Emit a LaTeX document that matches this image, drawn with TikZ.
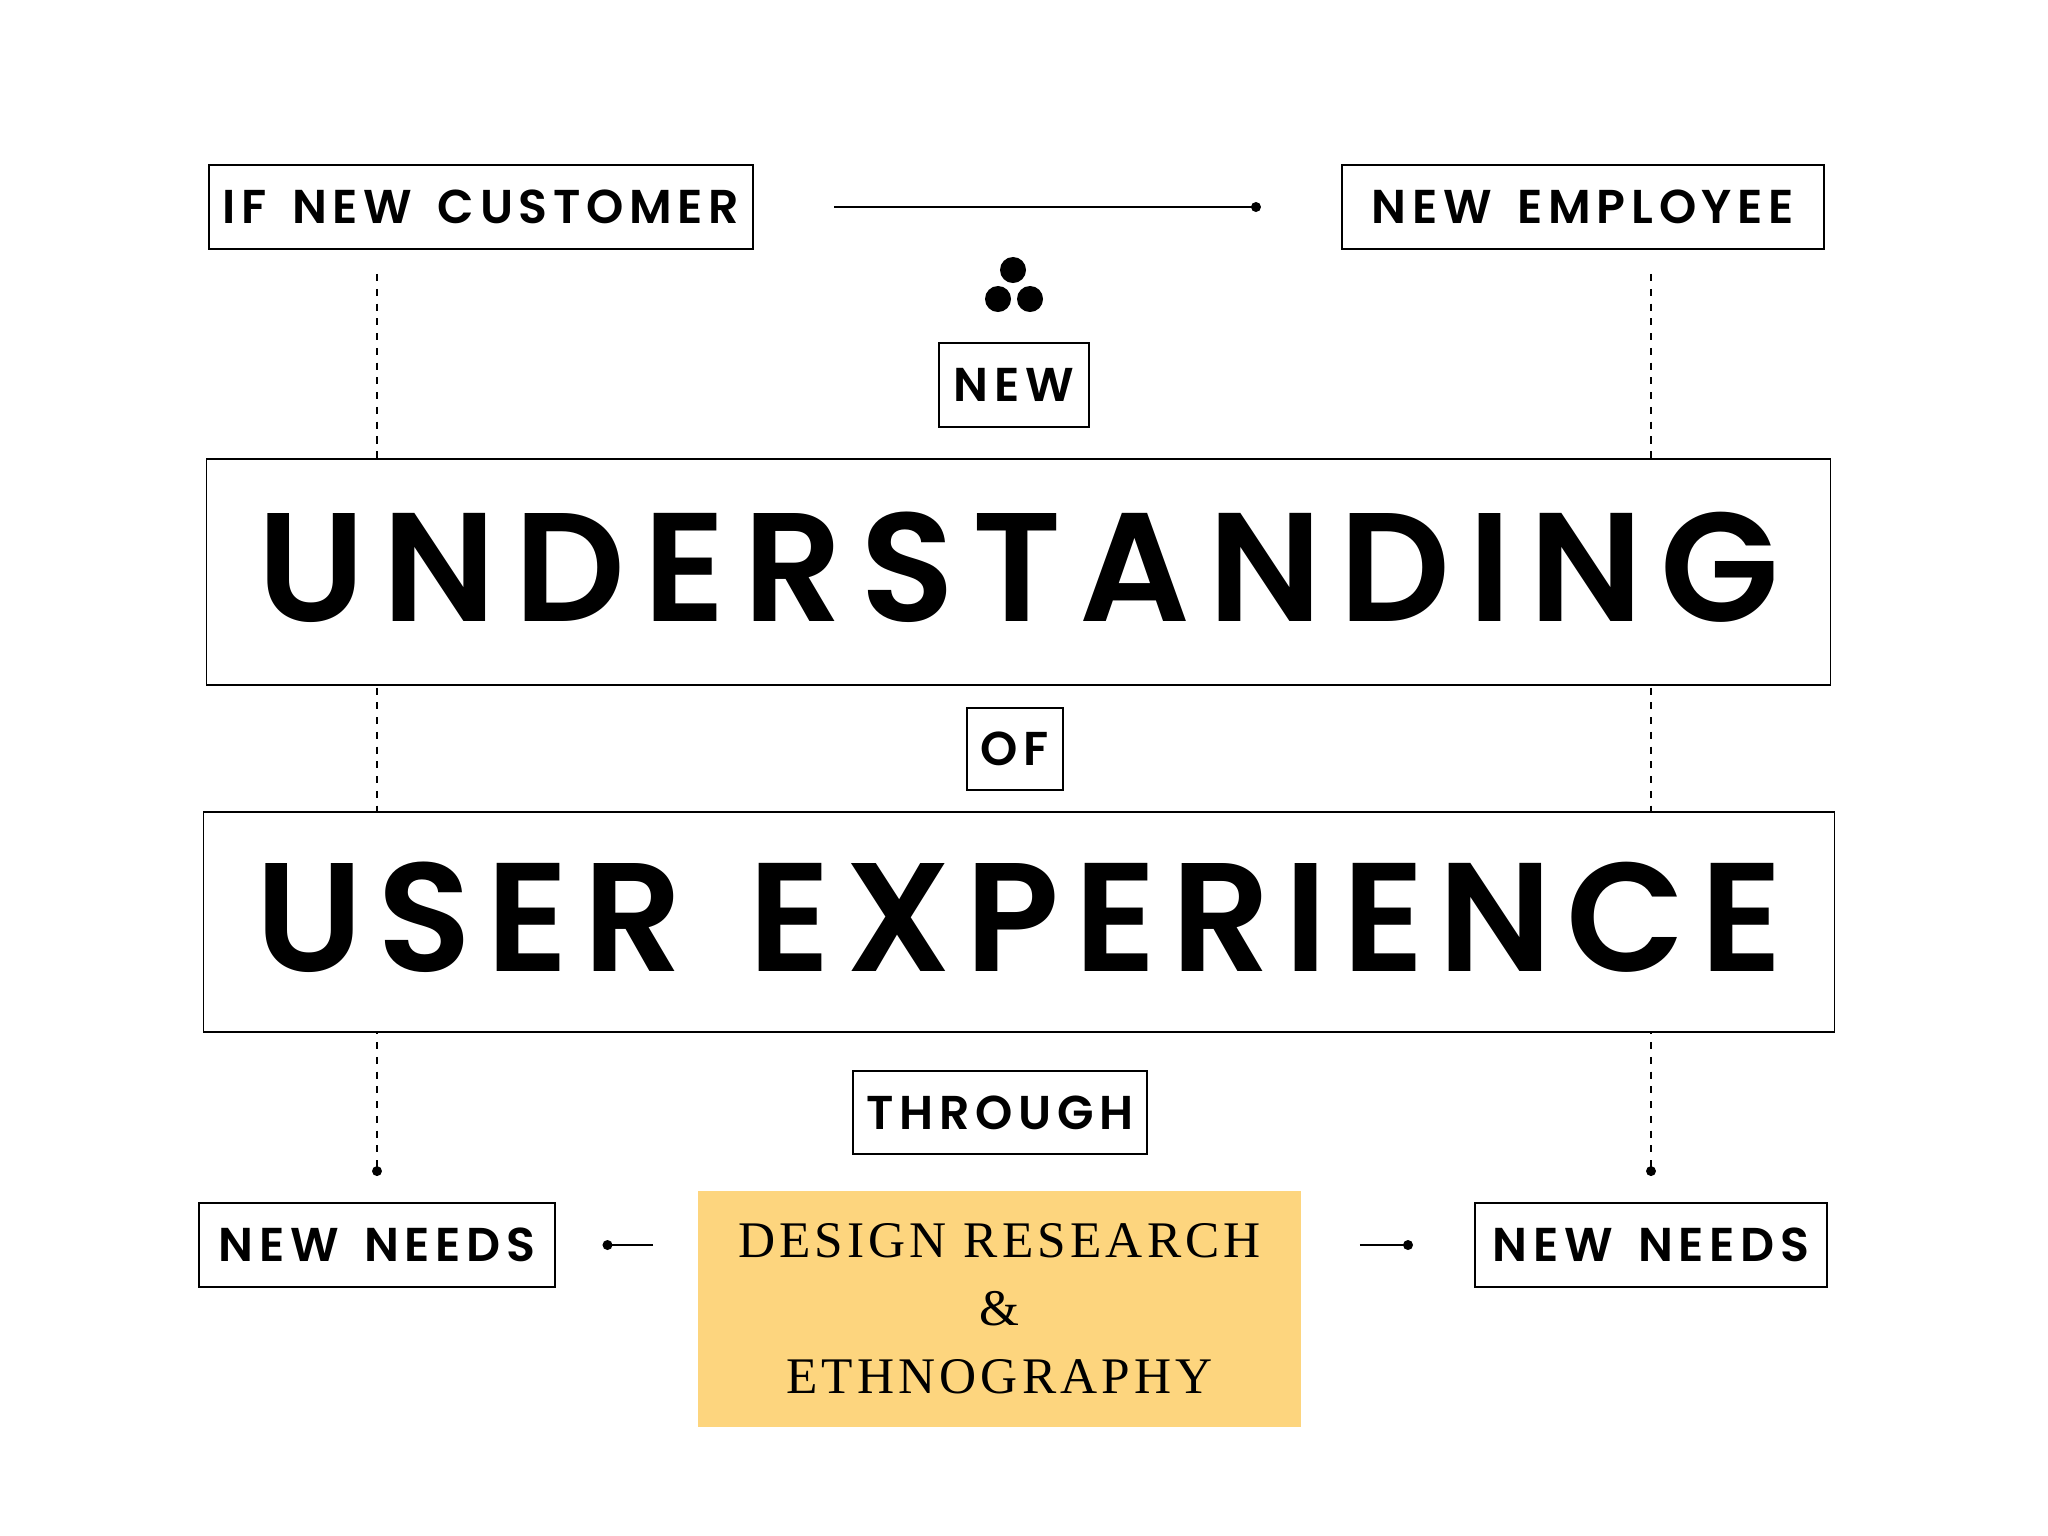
\documentclass[tikz,border=0pt]{standalone}
\usepackage{fontspec}
\setmainfont{Liberation Serif}
\newfontfamily\labelfont{Poppins SemiBold}[LetterSpace=12,WordSpace=1.5]
\newfontfamily\titlefont{Poppins SemiBold}[LetterSpace=11.5]
\newfontfamily\uxfont{Poppins SemiBold}[LetterSpace=9.3,WordSpace=1.3]
\newfontfamily\researchfont{Liberation Serif}[LetterSpace=8]
\usetikzlibrary{positioning,backgrounds,calc,arrows.meta}
\definecolor{sand}{HTML}{FDD57E}
\tikzset{
  tag/.style={draw, line width=0.55pt, fill=white, inner sep=0pt,
    font=\labelfont\fontsize{13.5}{16}\selectfont},
  headline/.style={tag, text depth=0.1cm, font=\titlefont\fontsize{44}{50}\selectfont},
  guide/.style={dash pattern=on 2pt off 2.2pt, line width=0.4pt},
  link/.style={line width=0.6pt},
  dotend/.style={-{Circle[length=2.8pt]}},
}
\begin{document}
\begin{tikzpicture}[x=0.01cm,y=-0.01cm]
  \useasboundingbox (0,0) rectangle (2048,1536);
  % top row
  \node[tag, minimum width=5.44cm, minimum height=0.84cm] (cust) at (481,207) {IF NEW CUSTOMER};
  \node[tag, minimum width=4.82cm, minimum height=0.84cm] (emp) at (1583,207) {NEW EMPLOYEE};
  \fill (1013,270) circle (0.13cm) (998,299) circle (0.13cm) (1030,299) circle (0.13cm);
  % middle column
  \node[tag, minimum width=1.50cm, minimum height=0.84cm] (new) at (1014,385) {NEW};
  \node[headline, minimum width=16.23cm, minimum height=2.26cm] (under) at (1018.5,572) {UNDERSTANDING};
  \node[tag, minimum width=0.96cm, minimum height=0.82cm] (of) at (1015,749) {OF};
  \node[headline, font=\uxfont\fontsize{44}{50}\selectfont, minimum width=16.30cm, minimum height=2.20cm]
    (ux) at (1019,922) {USER EXPERIENCE};
  \node[tag, minimum width=2.94cm, minimum height=0.83cm] (thr) at (1000,1112.5) {THROUGH};
  % bottom row
  \node[tag, minimum width=3.55cm, minimum height=0.84cm] (needsL) at (377,1245) {NEW NEEDS};
  \node[fill=sand, minimum width=6.03cm, minimum height=2.36cm, inner sep=0pt, align=center,
    font=\researchfont\fontsize{14.6}{19.3}\selectfont] (research) at (999.5,1309)
    {DESIGN RESEARCH\\\&\\ETHNOGRAPHY};
  \node[tag, minimum width=3.52cm, minimum height=0.84cm] (needsR) at (1651,1245) {NEW NEEDS};
  % connectors
  \draw[link, dotend] ($(cust.east)+(80,0)$) -- ($(emp.west)-(80,0)$);
  \draw[link, dotend] ($(research.west |- needsL.east)-(44,0)$) -- ($(needsL.east)+(47,0)$);
  \draw[link, dotend] ($(research.east |- needsR.west)+(58,0)$) -- ($(needsR.west)-(61,0)$);
  \begin{scope}[on background layer]
    \draw[guide, dotend] ($(needsL.north |- cust.south)+(0,24)$) -- ($(needsL.north)-(0,26)$);
    \draw[guide, dotend] ($(needsR.north |- emp.south)+(0,24)$) -- ($(needsR.north)-(0,26)$);
  \end{scope}
\end{tikzpicture}
\end{document}
